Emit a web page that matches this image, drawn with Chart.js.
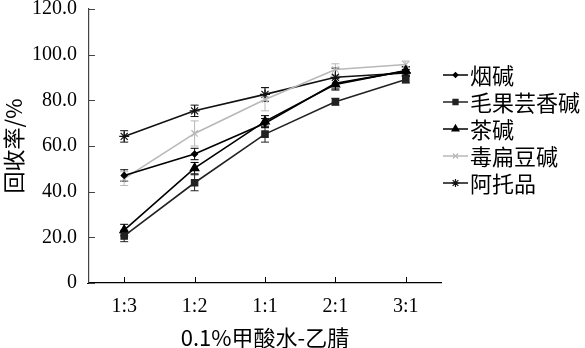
<!DOCTYPE html>
<html><head><meta charset="utf-8">
<script src="https://cdn.jsdelivr.net/npm/chart.js@4/dist/chart.umd.min.js"></script>
<style>html,body{margin:0;padding:0;background:#fff}#wrap{width:585px;height:348px}</style>
</head><body><div id="wrap"><canvas id="c" width="585" height="348"></canvas></div>
<script>
const categories = ['1:3','1:2','1:1','2:1','3:1'];
const seriesNames = ['烟碱','毛果芸香碱','茶碱','毒扁豆碱','阿托品'];
const nicotine = [47.1, 56.5, 70.0, 87.5, 92.8];
const pilocarpine = [20.6, 43.9, 65.2, 79.4, 89.1];
const theophylline = [23.2, 50.3, 70.8, 87.0, 93.0];
const physostigmine = [45.7, 65.5, 80.4, 93.5, 95.7];
const atropine = [64.2, 75.4, 82.6, 90.1, 92.0];
const nicotineErr = [2.5, 2.5, 2.0, 2.5, 2.0];
const pilocarpineErr = [2.5, 3.5, 3.5, 1.5, 1.5];
const theophyllineErr = [2.5, 2.5, 2.5, 2.5, 1.5];
const physostigmineErr = [3.0, 5.5, 5.0, 2.5, 1.5];
const atropineErr = [2.5, 2.5, 3.0, 4.0, 1.5];
const yTicks = [0, 20, 40, 60, 80, 100, 120];

const styles = [
  {color:'#000000', point:'rectRot', r:3},
  {color:'#222222', point:'rect', r:4.5},
  {color:'#000000', point:'triangle', r:5},
  {color:'#b8b8b8', point:'crossRot', r:4.5},
  {color:'#111111', point:'star', r:5}
];
const values = [nicotine, pilocarpine, theophylline, physostigmine, atropine];
const errs = [nicotineErr, pilocarpineErr, theophyllineErr, physostigmineErr, atropineErr];

const datasets = seriesNames.map((n,i)=>({
  label:n, data:values[i], errors:errs[i],
  borderColor:styles[i].color, backgroundColor:styles[i].color,
  pointStyle:styles[i].point, pointRadius:styles[i].r, pointBorderColor:styles[i].color,
  pointBackgroundColor:styles[i].color, pointBorderWidth:1.2,
  borderWidth:1.6, tension:0, fill:false
}));

const serif = "'Liberation Serif','DejaVu Serif',serif";
const cjk = "'Noto Sans CJK SC','Liberation Serif',serif";

const errorBars = {
  id:'errorBars',
  beforeDatasetsDraw(chart){
    const ctx = chart.ctx, y = chart.scales.y;
    chart.data.datasets.forEach((ds,di)=>{
      const meta = chart.getDatasetMeta(di);
      ctx.save(); ctx.strokeStyle = ds.borderColor; ctx.lineWidth = 1;
      meta.data.forEach((pt,j)=>{
        const v = ds.data[j], e = ds.errors[j];
        const y1 = y.getPixelForValue(v+e), y2 = y.getPixelForValue(v-e), x = pt.x;
        ctx.beginPath();
        ctx.moveTo(x,y1); ctx.lineTo(x,y2);
        ctx.moveTo(x-4,y1); ctx.lineTo(x+4,y1);
        ctx.moveTo(x-4,y2); ctx.lineTo(x+4,y2);
        ctx.stroke();
      });
      ctx.restore();
    });
  }
};

const innerTicks = {
  id:'innerTicks',
  afterDraw(chart){
    const ctx = chart.ctx, xs = chart.scales.x, ys = chart.scales.y, a = chart.chartArea;
    ctx.save(); ctx.lineWidth = 1;
    ctx.strokeStyle = '#444';
    ys.ticks.forEach((t,i)=>{ const p = Math.round(ys.getPixelForTick(i))+0.5;
      ctx.beginPath(); ctx.moveTo(a.left, p); ctx.lineTo(a.left+6, p); ctx.stroke(); });
    ctx.strokeStyle = '#000';
    xs.ticks.forEach((t,i)=>{ const p = Math.round(xs.getPixelForTick(i))+0.5;
      ctx.beginPath(); ctx.moveTo(p, a.bottom); ctx.lineTo(p, a.bottom-6); ctx.stroke(); });
    ctx.beginPath(); ctx.lineWidth = 1.2; ctx.moveTo(a.left-2, a.bottom+0.5); ctx.lineTo(a.left, a.bottom+0.5); ctx.stroke();
    ctx.restore();
  }
};

const customLegend = {
  id:'customLegend',
  afterDraw(chart){
    const ctx = chart.ctx;
    const x0 = 443, x1 = 468, yStart = 75, step = 27;
    chart.data.datasets.forEach((ds,i)=>{
      const yy = yStart + i*step;
      ctx.save();
      ctx.strokeStyle = ds.borderColor; ctx.lineWidth = 1.5;
      ctx.beginPath(); ctx.moveTo(x0,yy); ctx.lineTo(x1,yy); ctx.stroke();
      ctx.fillStyle = ds.pointBackgroundColor; ctx.strokeStyle = ds.pointBorderColor; ctx.lineWidth=1.2;
      Chart.helpers.drawPoint(ctx, {pointStyle:ds.pointStyle, radius:ds.pointRadius*0.8, rotation:0, borderWidth:1.2}, (x0+x1)/2, yy);
      ctx.fillStyle = '#000'; ctx.font = "22px " + cjk; ctx.textBaseline = 'middle'; ctx.textAlign='left';
      ctx.fillText(ds.label, x1+2, yy+1);
      ctx.restore();
    });
  }
};

new Chart(document.getElementById('c'), {
  type:'line',
  data:{labels:categories, datasets},
  options:{
    responsive:false, animation:false, devicePixelRatio:1,
    layout:{padding:{left:0, right:144, top:9, bottom:0}},
    plugins:{legend:{display:false}, tooltip:{enabled:false}},
    scales:{
      x:{
        offset:true,
        grid:{display:true, drawOnChartArea:false, drawTicks:false, color:'#000'},
        border:{display:true, color:'#000', width:1.2},
        ticks:{color:'#000', font:{family:serif, size:20}, padding:12},
        title:{display:true, text:'0.1%甲酸水-乙腈', color:'#000', font:{family:cjk, size:22}, padding:{top:4,bottom:-3}},
        afterFit(s){ s.height = 65; s.paddingLeft = 0; s.paddingRight = 0; }
      },
      y:{
        min:0, max:120,
        afterBuildTicks(s){ s.ticks = yTicks.map(v=>({value:v})); },
        grid:{display:true, drawOnChartArea:false, drawTicks:false},
        border:{display:true, color:'#444', width:1.2},
        ticks:{color:'#000', font:{family:serif, size:20}, padding:12,
          callback:(v)=> v===0 ? '0' : Number(v).toFixed(1)},
        title:{display:true, text:'回收率/%', color:'#000', font:{family:cjk, size:22}, padding:{top:0,bottom:4}},
        afterFit(s){ s.width = 89; s.paddingTop = 0; s.paddingBottom = 0; }
      }
    }
  },
  plugins:[errorBars, innerTicks, customLegend]
});
</script></body></html>
